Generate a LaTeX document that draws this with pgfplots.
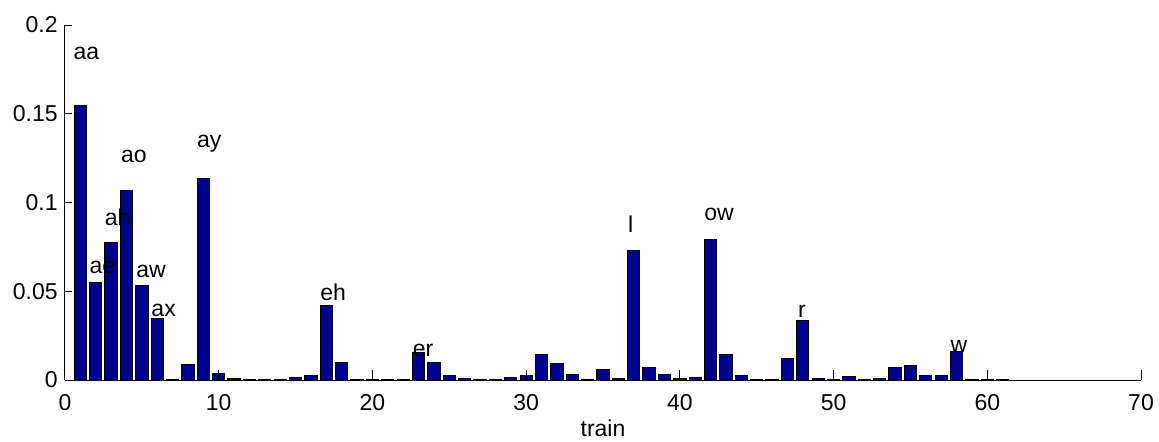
\documentclass[border=0pt]{standalone}
\usepackage{fontspec}
\setmainfont{Liberation Sans}
\usepackage{pgfplots}
\pgfplotsset{compat=1.18}
\definecolor{barblue}{RGB}{0,0,143}
\newcommand{\ff}{\fontsize{11.5pt}{13pt}\selectfont}
\begin{document}
\begin{tikzpicture}
\begin{axis}[
  name=ax,
  scale only axis,
  width=538pt, height=177.5pt,
  xmin=0, xmax=70, ymin=0, ymax=0.2,
  axis x line=bottom, axis y line=left,
  axis line style={-, line width=0.5pt},
  axis on top,
  tick align=inside,
  major tick length=3.5pt,
  tick style={black, line width=0.5pt},
  xtick style={/pgfplots/major tick length=5pt},
  xtick={0,10,20,30,40,50,60,70},
  xticklabels={0,10,20,30,40,50,60,70},
  ytick={0,0.05,0.1,0.15,0.2},
  yticklabels={0,0.05,0.1,0.15,0.2},
  xticklabel style={font=\ff, anchor=base, inner sep=0pt, yshift=-15pt},
  yticklabel style={font=\ff, anchor=east, inner sep=0pt, xshift=-3.5pt},
  xlabel={train},
  xlabel style={font=\ff, at={(axis description cs:0.5,0)}, anchor=base, inner sep=0pt, yshift=-28pt},
  clip=false,
]
\addplot[ybar, bar width=0.8, bar shift=0pt, fill=barblue, draw=black, line width=0.5pt]
coordinates {
(1,0.1549) (2,0.0548) (3,0.0774) (4,0.1067) (5,0.0532) (6,0.0347) (7,0.0002) (8,0.0085)
(9,0.1136) (10,0.0038) (11,0.0007) (12,0.0002) (13,0.0005) (14,0.0002) (15,0.0015) (16,0.0024)
(17,0.0417) (18,0.0098) (19,0.0002) (20,0.0002) (21,0.0002) (22,0.0002) (23,0.0154) (24,0.0096)
(25,0.0024) (26,0.0008) (27,0.0002) (28,0.0002) (29,0.0013) (30,0.0024) (31,0.0141) (32,0.0092)
(33,0.0032) (34,0.0002) (35,0.0062) (36,0.0008) (37,0.0732) (38,0.0068) (39,0.0032) (40,0.0008)
(41,0.0015) (42,0.0793) (43,0.0146) (44,0.0028) (45,0.0002) (46,0.0004) (47,0.0120) (48,0.0336)
(49,0.0010) (50,0.0002) (51,0.0021) (52,0.0002) (53,0.0006) (54,0.0071) (55,0.0084) (56,0.0023)
(57,0.0028) (58,0.0162) (59,0.0002) (60,0.0002) (61,0.0002)
};
\begin{scope}[every node/.style={font=\ff, anchor=base west, inner sep=0pt}]
\node at (axis cs:0.54,0.1803) {aa};
\node at (axis cs:1.58,0.0601) {ae};
\node at (axis cs:2.56,0.0873) {ah};
\node at (axis cs:3.62,0.1224) {ao};
\node at (axis cs:4.62,0.0578) {aw};
\node at (axis cs:5.60,0.0357) {ax};
\node at (axis cs:8.57,0.1311) {ay};
\node at (axis cs:16.59,0.0447) {eh};
\node at (axis cs:22.60,0.0132) {er};
\node at (axis cs:36.61,0.0830) {l};
\node at (axis cs:41.57,0.0901) {ow};
\node at (axis cs:47.67,0.0353) {r};
\node at (axis cs:57.58,0.0154) {w};
\end{scope}
\end{axis}
\pgfresetboundingbox
\path[use as bounding box] ([shift={(-32.5pt,-30.5pt)}]ax.south west) rectangle ([shift={(9pt,12.5pt)}]ax.north east);
\end{tikzpicture}
\end{document}
